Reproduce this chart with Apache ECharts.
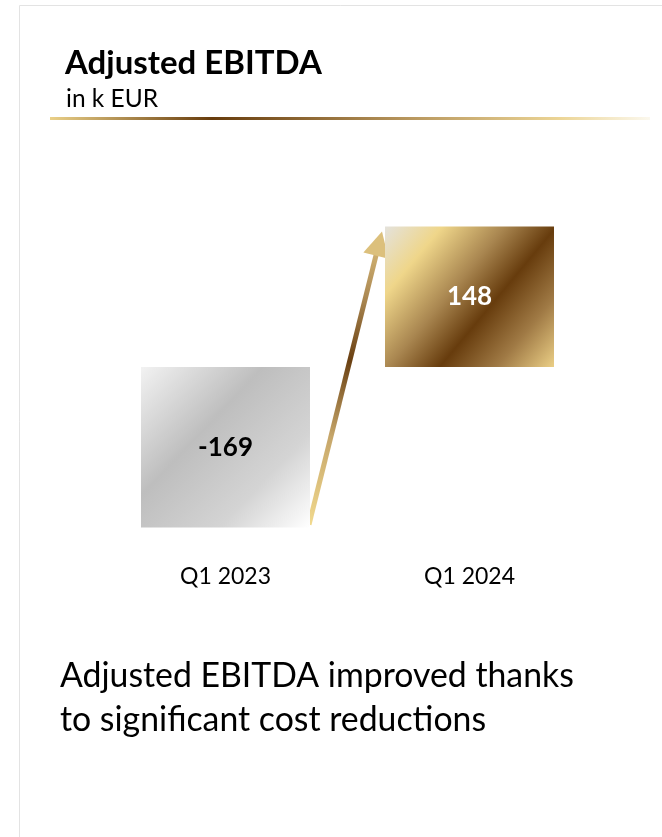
<!DOCTYPE html>
<html>
<head>
<meta charset="utf-8">
<title>Adjusted EBITDA</title>
<script src="https://cdn.jsdelivr.net/npm/echarts@6/dist/echarts.min.js"></script>
<style>
  html, body { margin: 0; padding: 0; background: #ffffff; }
  #chart { width: 662px; height: 837px; }
</style>
</head>
<body>
<div id="chart"></div>
<script>
// Quarter labels and adjusted EBITDA values (k EUR)
const categories = ['Q1 2023', 'Q1 2024'];
const ebitda = [-169, 148];

// Heading and commentary text
const titleText = 'Adjusted EBITDA';
const unitText = 'in k EUR';
const commentLines = ['Adjusted EBITDA improved thanks', 'to significant cost reductions'];

const FONT = 'Lato, "Open Sans", sans-serif';

// Metallic fills for the two bars
const silver = new echarts.graphic.LinearGradient(0, 0, 1, 1, [
  { offset: 0, color: '#f2f2f2' },
  { offset: 0.38, color: '#bebebe' },
  { offset: 0.72, color: '#d4d4d4' },
  { offset: 1, color: '#ffffff' }
]);
const gold = new echarts.graphic.LinearGradient(0, 0, 1, 1, [
  { offset: 0, color: '#e4e2dc' },
  { offset: 0.2, color: '#efd68a' },
  { offset: 0.42, color: '#a98650' },
  { offset: 0.6, color: '#673c0d' },
  { offset: 0.8, color: '#a07a45' },
  { offset: 1, color: '#ebcf86' }
]);
const barFills = [silver, gold];
const labelColors = ['#000000', '#ffffff'];

const chart = echarts.init(document.getElementById('chart'), null, { renderer: 'canvas' });

const option = {
  backgroundColor: '#ffffff',
  animation: false,
  grid: { left: 103.5, right: 70.5, top: 177, height: 380 },
  xAxis: {
    type: 'category',
    data: categories,
    axisLine: { show: false, onZero: false },
    axisTick: { show: false },
    splitLine: { show: false },
    axisLabel: { fontFamily: FONT, fontSize: 23, color: '#000000', margin: 8 }
  },
  yAxis: {
    type: 'value',
    min: -200,
    max: 200,
    show: false
  },
  series: [{
    type: 'bar',
    barWidth: 169,
    data: ebitda.map((v, i) => ({
      value: v,
      itemStyle: { color: barFills[i] },
      label: { color: labelColors[i] }
    })),
    label: {
      show: true,
      position: 'inside',
      fontFamily: FONT,
      fontWeight: 'bold',
      fontSize: 26,
      formatter: '{c}'
    }
  }],
  graphic: []
};
chart.setOption(option);

// Frame, heading, gold rule and commentary
function staticGraphics() {
  const els = [];
  els.push({
    type: 'polyline', silent: true,
    shape: { points: [[19.5, 837], [19.5, 5.5], [662, 5.5]] },
    style: { stroke: '#e3e3e3', lineWidth: 1, fill: null }
  });
  els.push({
    type: 'text', silent: true, x: 65, y: 63,
    style: { text: titleText, font: 'bold 33px ' + FONT, fill: '#000000', verticalAlign: 'middle' }
  });
  els.push({
    type: 'text', silent: true, x: 66, y: 99,
    style: { text: unitText, font: '24.5px ' + FONT, fill: '#000000', verticalAlign: 'middle' }
  });
  els.push({
    type: 'rect', silent: true,
    shape: { x: 50, y: 117, width: 600, height: 3 },
    style: {
      fill: new echarts.graphic.LinearGradient(0, 0, 1, 0, [
        { offset: 0, color: '#ead088' },
        { offset: 0.27, color: '#673c0d' },
        { offset: 0.6, color: '#b8975e' },
        { offset: 0.85, color: '#ecd596' },
        { offset: 1, color: '#fbf8ee' }
      ])
    }
  });
  commentLines.forEach((line, i) => {
    els.push({
      type: 'text', silent: true, x: 60, y: 676 + i * 44,
      style: { text: line, font: '33.8px ' + FONT, fill: '#000000', verticalAlign: 'middle' }
    });
  });
  return els;
}

// Arrow from the foot of the first bar to the top of the second, placed via the axes
function arrowGraphics() {
  const half = 169 / 2;
  const p0 = chart.convertToPixel({ seriesIndex: 0 }, [0, ebitda[0]]);
  const p1 = chart.convertToPixel({ seriesIndex: 0 }, [1, ebitda[1]]);
  const start = [p0[0] + half - 1, p0[1] - 3];
  const tip = [p1[0] - half - 3, p1[1] + 5];
  const dx = tip[0] - start[0], dy = tip[1] - start[1];
  const len = Math.sqrt(dx * dx + dy * dy);
  const ux = dx / len, uy = dy / len;
  const headLen = 25, headHalf = 13;
  const base = [tip[0] - ux * headLen, tip[1] - uy * headLen];
  const px = -uy, py = ux;
  const shaftGrad = new echarts.graphic.LinearGradient(start[0], start[1], tip[0], tip[1], [
    { offset: 0, color: '#f1d98e' },
    { offset: 0.3, color: '#c6a66a' },
    { offset: 0.56, color: '#6a4012' },
    { offset: 0.78, color: '#ad8a54' },
    { offset: 1, color: '#dfc27e' }
  ], true);
  return [
    {
      type: 'line', silent: true,
      shape: { x1: start[0], y1: start[1], x2: base[0] + ux * 2, y2: base[1] + uy * 2 },
      style: { stroke: shaftGrad, lineWidth: 5, lineCap: 'butt' }
    },
    {
      type: 'polygon', silent: true,
      shape: { points: [tip, [base[0] + px * headHalf, base[1] + py * headHalf], [base[0] - px * headHalf, base[1] - py * headHalf]] },
      style: { fill: '#dcc07c' }
    }
  ];
}

chart.setOption({ graphic: staticGraphics().concat(arrowGraphics()) });
</script>
</body>
</html>
